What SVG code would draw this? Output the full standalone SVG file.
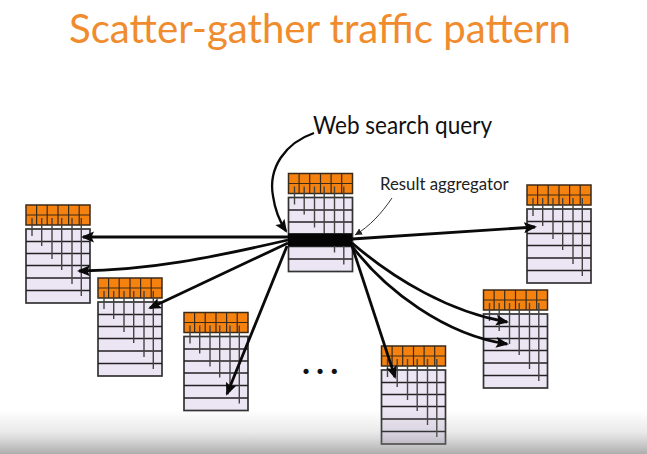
<svg xmlns="http://www.w3.org/2000/svg" width="647" height="454" viewBox="0 0 647 454">
<style>
.t{font-family:Lato,"Open Sans",sans-serif}
.title{font-size:40.200px;fill:#f08c2e}
.body{fill:#ece6f4;stroke:#333;stroke-width:1.7}
.cell{fill:none;stroke:#3a2a1a;stroke-width:1.2}
.row{stroke:#222;stroke-width:1.5}
.wire{stroke:#444;stroke-width:1.4}
.arrow{fill:none;stroke:#0a0a0a;stroke-width:2.8;marker-end:url(#ah)}
</style>
<defs>
<marker id="ah" markerUnits="userSpaceOnUse" markerWidth="14" markerHeight="12" refX="11" refY="6" orient="auto"><path d="M0 0.500L13 6L0 11.500L2.500 6Z" fill="#0a0a0a"/></marker>
<marker id="ahs" markerUnits="userSpaceOnUse" markerWidth="8" markerHeight="7" refX="7" refY="3.500" orient="auto"><path d="M0 0L7 3.500L0 7Z" fill="#222"/></marker>
<linearGradient id="fade" x1="0" y1="0" x2="0" y2="1"><stop offset="0" stop-color="#888" stop-opacity="0"/><stop offset="0.5" stop-color="#888" stop-opacity=".18"/><stop offset="1" stop-color="#777" stop-opacity=".6"/></linearGradient>
<g id="rack">
<rect class="body" x="0" y="24" width="64" height="74"/>
<path class="row" d="M0 36.500H64M0 48.500H64M0 60.500H64M0 73H64M0 85.500H64"/>
<rect x="0" y="0" width="64" height="20" fill="#f5820f" stroke="#3a2a1a" stroke-width="1.500"/>
<path class="cell" d="M0 10H64M10.600 0V20M21.200 0V20M32 0V20M42.600 0V20M53.200 0V20"/>
<path class="wire" d="M6 13V31M15.700 13V41M26 13V54M35.700 13V65M46 13V79M55.300 13V91"/>
</g>
</defs>
<rect width="647" height="454" fill="#fff"/>
<text class="t title" x="69" y="43">Scatter-gather traffic pattern</text>
<g id="rack-left-1"><use href="#rack" x="26" y="205"/></g>
<g id="rack-left-2"><use href="#rack" x="98" y="278"/></g>
<g id="rack-left-3"><use href="#rack" x="184" y="312.500"/></g>
<g id="rack-bottom"><use href="#rack" x="381.500" y="346"/></g>
<g id="rack-right-low"><use href="#rack" x="483.500" y="290"/></g>
<g id="rack-right-top"><use href="#rack" x="527" y="185"/></g>
<g id="aggregator"><use href="#rack" x="288.500" y="173.500"/><rect x="288" y="233.500" width="64" height="12.500" fill="#050505"/></g>
<g id="connectors">
<path class="arrow" d="M288 237H83"/>
<path class="arrow" d="M288 240C210 258 150 270 79 271"/>
<path class="arrow" d="M288 243L150 308"/>
<path class="arrow" d="M287 246L227 394"/>
<path class="arrow" d="M352 239L535 227"/>
<path class="arrow" d="M352 246L395 377"/>
<path class="arrow" d="M352 243C395 280 450 312 507 322"/>
<path class="arrow" d="M352 246C385 290 445 335 507 344"/>
<path class="arrow" style="stroke-width:2.300" d="M314 133C285 143 268 168 273 196C275 210 280 222 286 231"/>
<path d="M392 198C381 214 370 226 355 235" fill="none" stroke="#333" stroke-width="1" marker-end="url(#ahs)"/>
</g>
<g id="labels">
<text class="t" x="313" y="134" font-size="25" textLength="179" lengthAdjust="spacingAndGlyphs" fill="#111">Web search query</text>
<text class="t" x="380" y="190" font-size="16.800" fill="#222">Result aggregator</text>
<text class="t" x="302" y="374" font-size="34" font-weight="700" letter-spacing="6" fill="#111">...</text>
</g>
<rect x="0" y="410" width="647" height="44" fill="url(#fade)"/>
</svg>
